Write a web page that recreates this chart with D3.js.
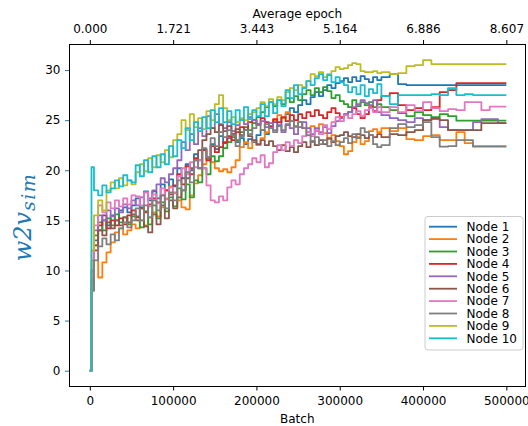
<!DOCTYPE html>
<html><head><meta charset="utf-8">
<script src="https://cdn.jsdelivr.net/npm/d3@7"></script>
<style>
html,body{margin:0;padding:0;background:#fff;}
svg{display:block;font-family:"DejaVu Sans",sans-serif;}
</style></head><body>
<svg id="chart" width="528" height="426"></svg>
<script>
// ---------------- data ----------------
const batches = [0,2000,5000,10000,15000,20000,25000,30000,35000,40000,45000,50000,
 55000,60000,65000,70000,75000,80000,85000,90000,95000,100000,
 105000,110000,115000,120000,125000,130000,135000,140000,145000,150000,
 155000,160000,165000,170000,175000,180000,185000,190000,195000,200000,
 205000,210000,215000,220000,225000,230000,235000,240000,245000,250000,
 255000,260000,265000,270000,275000,280000,285000,290000,295000,300000,
 305000,310000,315000,320000,325000,330000,335000,340000,345000,350000,
 360000,370000,380000,390000,400000,410000,420000,430000,440000,450000,460000,470000,480000,490000,500000];

const node1 = [0,10,13,14,15,14.5,15.5,15,16,16.3,15.8,16.5,
 17.2,16.3,17.9,17,17.9,17.2,18.6,18,19.1,18.4,
 20.2,19.2,20.6,20,21.6,21,22.1,21.2,22.6,22.1,
 23.4,22.7,23.2,23.6,22.8,23.2,22.6,23.1,22.8,23.5,
 24,23.6,24.3,24.8,24.4,25.2,25.6,26.2,25.8,26.5,
 27,26.6,27.3,27.8,27.4,28,28.5,28.2,28.7,28.9,
 29.2,28.8,29.3,28.9,29.4,29.1,28.8,29.3,29.0,29.3,
 29.6,28.6,28.5,28.5,28.5,28.5,28.5,28.5,28.5,28.5,28.5,28.5,28.5,28.5,28.5];
const node2 = [0,11,12.5,9.3,10.8,11.8,12.8,13.8,14.2,13.6,14,14.6,
 14.2,15,14.5,15.3,15.8,15.4,16.3,17.2,18.4,17.8,
 17,16.3,16.1,17.5,18.7,19.5,20.6,21.3,20.8,20.2,
 19.9,20.1,19.8,20.3,21,22.3,22.8,22.2,22.9,22.5,
 23.2,23.8,24.3,25,25.5,25.2,25.8,24.9,24.3,24.8,
 24.2,23.8,24.4,23.9,24.6,23.7,23.1,23.5,22.9,22.4,
 21.6,21.9,22.8,23.3,22.6,22.9,23.9,24.1,23.8,24.2,
 23.9,24.2,23.1,23,23.4,23.5,23,23,23.8,22.7,22.4,22.4,22.4,22.4,22.4];
const node3 = [0,8,13.5,14.8,14,15.2,14.5,15.6,14.8,15.3,14.6,15.4,
 15.4,14.3,15.9,14.6,16.5,15.2,16.8,15.9,17.3,16.4,
 18.2,17.1,18.6,17.3,19,18.8,20.2,19.6,21.4,20.9,
 21.4,22.2,22.8,23.3,23,23.8,24.3,24,24.7,25.3,
 25.8,26.3,26.8,26.4,27,26.6,27.2,26.8,27.4,27,
 27.6,28,27.5,28.2,27.8,28.3,27.9,27.2,27.5,26.9,
 26.6,26.3,27,26.4,26.8,26.5,26.8,26.3,26.6,26.3,
 26,25.7,25.4,25.8,25.5,25.3,25.6,25.4,24.95,24.95,24.95,24.95,24.95,24.95,24.95];
const node4 = [0,9,12,14.5,15.5,14.2,15,14.5,15.2,14.6,15.5,16,
 15.3,16.2,15.8,16.6,17.2,16.8,17.5,18,17.6,18.5,
 19.6,18.6,20.4,19.6,21.2,20.2,22,21,22.4,21.8,
 22.3,22.8,23.4,23,23.8,24.3,24,24.8,25,24.6,
 25.2,24.8,24.4,25.1,24.8,25.3,24.9,25.5,25,25.6,
 25.2,25.8,25.4,26,25.5,25.2,25.8,26.2,25.7,25.3,
 25.6,25.8,26.2,25.6,25.2,25.6,26.3,25.9,27,27.4,
 27.7,26.5,26,26.2,26,26.3,27.8,28,28.7,28.7,28.7,28.7,28.7,28.7,28.7];
const node5 = [0,10,14,15.5,15,16,15.4,16.2,15.8,16.6,16.2,17,
 16.5,17.3,17.8,17.2,18,18.6,19.2,18.8,19.6,20.2,
 21,22.8,22,23.6,22.6,24.2,23.4,25.4,24.2,25.6,
 24.6,24.2,24.8,23.9,24.5,25,24.6,25.3,25,24.5,
 24.9,24.3,24.7,24,24.5,23.8,24.6,24.2,23.6,24.3,
 24.8,24.2,23.6,24.2,23.8,24.3,23.7,24.4,24.9,25.2,
 25.5,25.8,26.3,26.6,27,26.7,26.5,27,25.8,25.5,
 25.2,25,24.8,25.2,25,25.1,24.3,24,24,24,24.8,25.1,25.1,24.7,24.7];
const node6 = [0,9,12.5,14,13.5,14.8,14.2,15,14.5,15.3,14.8,15.6,
 15,16.2,14.4,13.8,15.6,14.6,16.5,15.2,17,16.2,
 17.3,18,19.2,20.2,21,22,23,23.6,24.2,23.8,
 24.5,23.9,24.4,23.6,24.1,23.5,24,23.4,23,22.6,
 23,22.5,22.9,22.4,22,22.5,21.9,22.3,21.8,22.4,
 22.8,22.3,22.9,22.5,23,22.6,23.2,22.8,23.4,23.5,
 23.8,23.4,23.3,23.6,23.5,23.2,23.5,23.3,23.6,23.3,
 23.6,23.5,23.8,24,25,25.2,25,24,24,24,24,24.7,24.7,24.7,24.7];
const node7 = [0,9.5,14.5,16.5,15.8,16.8,16.2,17,16.4,17.2,16.6,17.5,
 17.4,16.5,17.8,16.4,17.6,16.7,18.2,17.1,18.3,17.7,
 19.4,20.2,19.6,20.8,20.3,21,20.2,18.5,17,16.8,
 17.4,17,18.3,19,18.6,19.6,20.2,20.6,21.2,20.8,
 21.5,20.3,20.7,21.8,22.5,22,22.8,22.4,23,22.7,
 23.4,23.8,23.4,24,23.6,24.5,24.1,24.8,25.3,24.9,
 25.5,25.2,25.6,25.9,25.4,26,26.2,25.8,26.3,25.8,
 26.3,25.8,26.5,25.9,26.8,26.2,25.9,26.1,26,26.8,26.8,26,26.35,26.35,26.35];
const node8 = [0,8,11,12.4,13.2,12.6,13.6,13,14.2,14.8,14.3,15,
 16.2,15,16.5,15.3,17,16,17.5,16.2,17.8,17,
 19,18,19.8,18.8,21,20.2,22.2,21.3,23.2,22.4,
 23.8,23.3,24,23.5,22.4,23.4,24,23.6,24.2,24.5,
 24,24.6,24.2,23.8,24.4,24,24.5,24.9,24.4,24.8,
 24.2,23.5,22.8,23.3,22.6,23,22.4,22.9,22.5,22.8,
 23.2,22.7,23.6,23.2,24.2,23.8,23.5,22.6,22.3,22.5,
 24.2,24.6,24.3,24.5,24.8,23.3,22.35,22.4,23,23,22.35,22.35,22.35,22.35,22.35];
const node9 = [0,12,15.5,17,16,18,18.8,18.2,19.2,18.5,19,18.6,
 19.8,20.6,19.9,21.2,20.3,21.5,20.8,22,21.3,23,
 23.6,25,24,25.6,24.3,25.2,24.1,25.9,25,26.6,
 27.5,26.2,25,25.3,24.8,25.2,25,25.6,25.8,26.2,
 26.8,26.4,27.1,26.6,27.3,27,27.8,28.2,28,28.5,
 28.3,28.9,29.6,29.4,29.8,29.3,29.6,29.9,30.3,30.1,
 30.2,30.5,30.7,30.6,29.9,29.8,29.8,29.9,29.7,29.8,
 29.6,29.7,30.4,30.5,31,30.6,30.6,30.6,30.6,30.6,30.6,30.6,30.6,30.6,30.6];
const node10 = [0,20.3,18,17.5,18.5,17.8,18.2,19,18.4,19.5,19,18.8,
 20.5,19.4,21,19.8,21.4,20.3,21.6,20.6,22.4,21.4,
 23,22.2,24.2,23,24.8,23.9,25.3,24.2,26,24.8,
 26.2,24.8,25.9,24.6,26,25,26.3,25.1,26,25.4,
 26.6,25.4,26.8,25.7,27,26.4,28,27.2,28.5,27.6,
 28.2,28.9,28.5,29.2,29.6,29,29.5,28.8,29.3,28.8,
 28.5,27.8,28.3,27.6,28.5,27.4,28.1,27.7,28.6,27.4,
 26.6,27.5,27.5,27.5,27.5,27.6,27.5,28.2,27.5,27.6,27.5,27.5,27.5,27.5,27.5];

const seriesValues = [node1,node2,node3,node4,node5,node6,node7,node8,node9,node10];
const nodeNames = ["Node 1","Node 2","Node 3","Node 4","Node 5","Node 6","Node 7","Node 8","Node 9","Node 10"];
const colors = ["#1f77b4","#ff7f0e","#2ca02c","#d62728","#9467bd","#8c564b","#e377c2","#7f7f7f","#bcbd22","#17becf"];
const xTicks = [0,100000,200000,300000,400000,500000];
const epochTickLabels = ["0.000","1.721","3.443","5.164","6.886","8.607"];
const yTicks = [0,5,10,15,20,25,30];

// ---------------- layout ----------------
const L = 69, R = 525.5, T = 44, B = 386.5;
const svg = d3.select("#chart");
const x = d3.scaleLinear().domain([-25000, 523000]).range([L, R]);
const y = d3.scaleLinear().domain([-1.58, 32.6]).range([B, T]);

svg.append("defs").append("clipPath").attr("id","clip")
  .append("rect").attr("x",L).attr("y",T).attr("width",R-L).attr("height",B-T);

const line = d3.line()
  .x((d,i)=>x(batches[i]))
  .y(d=>y(d))
  .curve(d3.curveStepAfter);

const g = svg.append("g").attr("clip-path","url(#clip)");
seriesValues.forEach((vals,k)=>{
  g.append("path").datum(vals)
    .attr("d", line)
    .attr("fill","none")
    .attr("stroke", colors[k])
    .attr("stroke-width",1.8)
    .attr("stroke-linejoin","round");
});

function styleAxis(sel, tickColor){
  sel.select(".domain").remove();
  sel.selectAll(".tick line").attr("stroke", tickColor).attr("stroke-width",1);
  sel.selectAll(".tick text").attr("fill","#000").style("font-size","12px")
     .style("font-family","'DejaVu Sans',sans-serif");
}
const xb = svg.append("g").attr("transform",`translate(0,${B})`)
  .call(d3.axisBottom(x).tickValues(xTicks).tickFormat(d3.format("d")).tickSize(4).tickPadding(5.5));
styleAxis(xb,"#000");

const xt = svg.append("g").attr("transform",`translate(0,${T})`)
  .call(d3.axisTop(x).tickValues(xTicks).tickFormat((d,i)=>epochTickLabels[i]).tickSize(4).tickPadding(7));
styleAxis(xt,"#000");

const yl = svg.append("g").attr("transform",`translate(${L},0)`)
  .call(d3.axisLeft(y).tickValues(yTicks).tickSize(4).tickPadding(4.5));
styleAxis(yl,"#1f77b4");

svg.append("rect").attr("x",L).attr("y",T).attr("width",R-L).attr("height",B-T)
  .attr("fill","none").attr("stroke","#000").attr("stroke-width",1)
  .attr("shape-rendering","crispEdges");

svg.append("text").attr("x",(L+R)/2).attr("y",422.5).attr("text-anchor","middle")
  .style("font-size","12px").text("Batch");
svg.append("text").attr("x",(L+R)/2).attr("y",18).attr("text-anchor","middle")
  .style("font-size","12px").text("Average epoch");

const yt = svg.append("text").attr("transform","translate(31,217) rotate(-90)")
  .attr("text-anchor","middle").attr("fill","#1f77b4")
  .style("font-family","'DejaVu Serif',serif").style("font-style","italic");
yt.append("tspan").style("font-size","24px").text("w2v");
yt.append("tspan").style("font-size","19px").style("letter-spacing","1.5px")
  .attr("dy",4).attr("dx",1).text("sim");

// legend
const lg = svg.append("g");
lg.append("rect").attr("x",425).attr("y",216.5).attr("width",98).attr("height",133.5)
  .attr("rx",3).attr("fill","#fff").attr("fill-opacity",0.8)
  .attr("stroke","#cccccc").attr("stroke-width",1);
nodeNames.forEach((nm,i)=>{
  const yy = 226.7 + i*12.4;
  lg.append("line").attr("x1",429).attr("x2",457).attr("y1",yy).attr("y2",yy)
    .attr("stroke",colors[i]).attr("stroke-width",1.8);
  lg.append("text").attr("x",466.5).attr("y",yy).attr("dy","0.36em")
    .style("font-size","12px").attr("fill","#000").text(nm);
});
</script>
</body></html>
